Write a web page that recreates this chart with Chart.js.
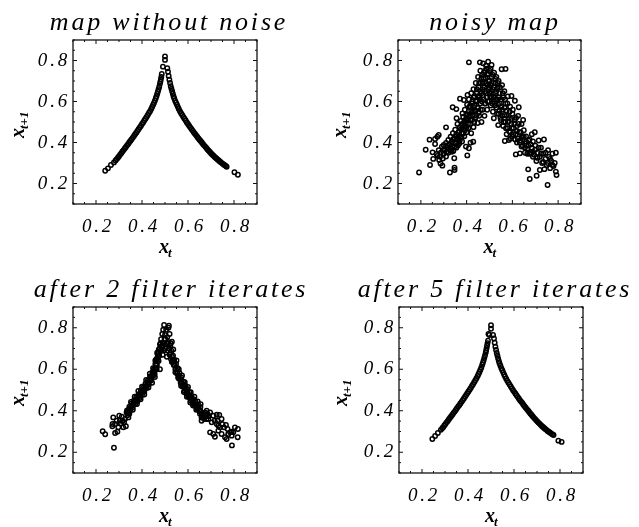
<!DOCTYPE html>
<html>
<head>
<meta charset="utf-8">
<script src="https://cdn.jsdelivr.net/npm/chart.js@4"></script>
<style>
  html, body { margin: 0; padding: 0; background: #fff; overflow: hidden; width: 639px; height: 527px; }
  canvas { position: absolute; }
</style>
</head>
<body>
<canvas id="panel0"></canvas>
<canvas id="panel1"></canvas>
<canvas id="panel2"></canvas>
<canvas id="panel3"></canvas>
<script>
// values, [x_t, x_t+1]
const titles = ["map without noise", "noisy map", "after 2 filter iterates", "after 5 filter iterates"];
const tickValues = [0.2, 0.4, 0.6, 0.8];
const minorValues = [0.1, 0.15, 0.25, 0.3, 0.35, 0.45, 0.5, 0.55, 0.65, 0.7, 0.75, 0.85, 0.9];

const cleanMap = [
  [.240,.262],[.252,.274],[.265,.290],[.278,.303],[.285,.312],[.29,.319],[.295,.326],[.30,.333],[.305,.341],[.31,.348],
  [.315,.356],[.32,.363],[.325,.371],[.33,.378],[.335,.386],[.34,.393],[.345,.401],[.35,.409],[.355,.416],[.36,.424],
  [.365,.432],[.37,.440],[.375,.448],[.38,.456],[.385,.465],[.39,.473],[.395,.481],[.40,.490],[.405,.498],[.41,.507],
  [.415,.516],[.42,.525],[.425,.534],[.43,.544],[.435,.553],[.44,.564],[.444,.573],[.448,.583],[.452,.593],[.456,.604],
  [.46,.616],[.463,.626],[.466,.637],[.469,.648],[.472,.660],[.475,.672],[.478,.686],[.480,.697],[.482,.708],[.484,.720],
  [.486,.734],[.491,.770],[.500,.803],[.500,.820],
  [.510,.762],[.513,.745],[.516,.725],[.519,.706],[.522,.690],[.525,.675],[.528,.662],[.531,.650],[.534,.638],[.537,.626],
  [.54,.616],[.544,.604],[.548,.594],[.552,.584],[.556,.574],[.56,.564],[.565,.553],[.57,.543],[.575,.534],[.58,.525],
  [.585,.516],[.59,.507],[.595,.498],[.60,.490],[.605,.482],[.61,.474],[.615,.466],[.62,.458],[.625,.450],[.63,.443],
  [.635,.436],[.64,.428],[.645,.421],[.65,.414],[.655,.407],[.66,.400],[.665,.393],[.67,.386],[.675,.380],[.68,.373],
  [.685,.366],[.69,.360],[.695,.354],[.70,.348],[.705,.342],[.71,.337],[.715,.331],[.72,.326],[.725,.321],[.73,.316],
  [.735,.311],[.74,.306],[.745,.302],[.75,.297],[.755,.293],[.76,.289],[.765,.285],[.768,.282],[.802,.255],[.817,.243]
];

const noisyMap = [
  [.192,.254],[.221,.365],[.238,.414],[.240,.290],[.262,.417],[.272,.428],[.278,.437],[.251,.352],[.262,.393],[.254,.320],
  [.269,.344],[.280,.315],[.286,.298],[.294,.287],[.327,.254],[.347,.266],[.347,.277],[.346,.323],[.310,.474],[.339,.572],
  [.355,.563],[.356,.518],[.371,.614],[.410,.791],[.403,.337],[.397,.380],[.410,.372],[.429,.404],[.417,.399],[.404,.632],
  [.400,.510],[.388,.607],[.382,.542],[.272,.335],[.278,.362],[.284,.330],[.288,.352],[.292,.380],[.296,.322],[.30,.345],
  [.30,.388],[.305,.362],[.31,.332],[.31,.398],[.315,.375],[.32,.350],[.32,.412],[.325,.392],[.33,.362],[.33,.428],
  [.335,.405],[.338,.380],[.34,.445],[.342,.358],[.345,.420],[.35,.395],[.35,.462],[.355,.375],[.355,.440],[.36,.415],
  [.36,.490],[.365,.450],[.368,.395],[.37,.475],[.372,.425],[.375,.505],[.378,.445],[.38,.405],[.38,.490],[.385,.465],
  [.385,.525],[.39,.430],[.39,.505],[.392,.560],[.395,.480],[.398,.535],[.40,.450],[.402,.585],[.405,.510],[.408,.470],
  [.41,.555],[.41,.610],[.415,.530],[.415,.490],[.418,.575],[.42,.640],[.42,.445],[.424,.510],[.425,.600],[.428,.550],
  [.43,.660],[.43,.475],[.435,.580],[.435,.625],[.438,.520],[.44,.690],[.44,.555],[.445,.645],[.445,.600],[.448,.495],
  [.45,.720],[.45,.570],[.452,.670],[.455,.620],[.455,.530],[.458,.791],[.46,.750],[.46,.590],[.462,.690],[.465,.640],
  [.465,.500],[.468,.730],[.47,.560],[.47,.660],[.472,.786],[.475,.610],[.475,.710],[.478,.530],[.48,.750],[.48,.650],
  [.482,.590],[.485,.690],[.485,.775],[.488,.620],[.49,.730],[.49,.560],[.494,.794],[.495,.660],[.495,.700],[.498,.600],
  [.50,.750],[.50,.640],[.505,.680],[.505,.580],[.509,.778],[.51,.620],[.51,.720],[.515,.660],[.515,.550],[.519,.518],
  [.52,.740],[.52,.600],[.525,.690],[.525,.640],[.53,.570],[.53,.720],[.535,.610],[.535,.665],[.538,.485],[.54,.540],
  [.54,.700],[.545,.640],[.545,.590],[.55,.510],[.553,.757],[.555,.560],[.555,.680],[.56,.620],[.56,.480],[.565,.535],
  [.565,.650],[.567,.407],[.57,.759],[.57,.590],[.57,.500],[.575,.440],[.575,.555],[.58,.625],[.58,.470],[.585,.412],
  [.585,.520],[.59,.575],[.59,.450],[.595,.490],[.596,.627],[.60,.430],[.60,.540],[.605,.470],[.61,.510],[.611,.604],
  [.615,.342],[.615,.440],[.62,.480],[.62,.400],[.625,.530],[.628,.572],[.63,.450],[.633,.347],[.635,.410],[.64,.490],
  [.64,.380],[.645,.430],[.647,.510],[.65,.460],[.655,.395],[.655,.350],[.66,.430],[.665,.370],[.669,.269],[.67,.410],
  [.676,.222],[.675,.345],[.68,.390],[.685,.440],[.69,.355],[.69,.330],[.698,.450],[.70,.385],[.705,.310],[.706,.238],
  [.71,.350],[.715,.410],[.72,.330],[.720,.266],[.725,.375],[.73,.300],[.735,.345],[.738,.415],[.74,.270],[.745,.320],
  [.75,.290],[.754,.193],[.756,.363],[.76,.330],[.765,.275],[.77,.310],[.775,.345],[.78,.285],[.785,.300],[.790,.258],
  [.793,.241],[.790,.350],
  // denser core of the cloud
  [.30,.365],[.312,.355],[.318,.385],[.328,.375],[.335,.355],[.34,.415],[.348,.380],[.352,.430],[.358,.400],[.362,.385],
  [.366,.430],[.37,.410],[.375,.465],[.378,.425],[.382,.475],[.386,.445],[.39,.490],[.393,.460],[.397,.515],[.40,.475],
  [.403,.535],[.406,.490],[.41,.530],[.412,.575],[.416,.510],[.42,.555],[.422,.590],[.426,.530],[.428,.575],[.43,.620],
  [.433,.500],[.436,.555],[.44,.605],[.443,.530],[.445,.660],[.447,.570],[.45,.625],[.453,.545],[.455,.690],[.457,.610],
  [.46,.650],[.462,.560],[.465,.715],[.467,.600],[.47,.690],[.472,.630],[.475,.740],[.477,.670],[.48,.590],[.483,.715],
  [.485,.640],[.488,.760],[.49,.680],[.492,.600],[.495,.735],[.498,.670],[.50,.700],[.503,.625],[.505,.760],[.507,.650],
  [.51,.690],[.512,.590],[.515,.730],[.518,.625],[.52,.670],[.523,.580],[.526,.710],[.528,.610],[.53,.650],[.533,.540],
  [.536,.690],[.538,.585],[.54,.620],[.543,.555],[.546,.670],[.548,.520],[.55,.610],[.552,.575],[.556,.530],[.558,.640],
  [.562,.500],[.566,.570],[.568,.610],[.572,.470],[.574,.530],[.578,.590],[.582,.500],[.586,.455],[.588,.550],[.592,.420],
  [.595,.515],[.598,.470],[.602,.560],[.604,.440],[.608,.490],[.612,.415],[.616,.520],[.62,.455],[.624,.420],[.628,.490],
  [.632,.400],[.636,.450],[.64,.425],[.645,.385],[.65,.430],[.655,.375],[.66,.405],[.665,.345],[.67,.385],[.675,.415],
  [.68,.350],[.685,.375],[.69,.405],[.695,.340],[.70,.365],[.71,.325],[.715,.375],[.725,.345],[.735,.305],[.745,.350],
  [.755,.300],[.765,.320],[.775,.290]
];

const filter2Map = [
  [.229,.301],[.240,.287],[.278,.222],[.791,.233],[.271,.325],[.272,.336],[.275,.368],[.283,.293],[.293,.299],[.297,.320],
  [.304,.352],[.312,.371],[.319,.320],[.330,.325],[.326,.360],[.341,.368],[.290,.352],[.301,.376],[.283,.336],[.316,.352],
  [.333,.392],[.308,.340],[.322,.345],[.337,.378],
  [.335,.402],[.34,.388],[.345,.420],[.35,.402],[.355,.435],[.36,.417],[.365,.450],[.37,.432],[.375,.466],[.38,.446],
  [.385,.480],[.39,.461],[.395,.497],[.40,.476],[.405,.511],[.41,.492],[.415,.530],[.42,.510],[.425,.545],[.43,.527],
  [.435,.565],[.44,.546],[.445,.585],[.45,.570],[.452,.600],[.455,.578],[.458,.625],[.46,.600],[.463,.650],[.465,.620],
  [.468,.672],[.47,.645],[.473,.695],[.475,.665],[.478,.720],[.48,.690],[.483,.745],[.485,.710],[.488,.770],[.49,.670],
  [.49,.725],[.492,.790],[.496,.813],[.495,.690],[.498,.745],[.50,.765],[.50,.700],[.505,.790],[.505,.725],[.508,.660],
  [.51,.755],[.512,.690],[.515,.800],[.517,.810],[.515,.730],[.52,.770],[.52,.670],[.523,.715],[.526,.650],[.528,.690],
  [.53,.733],[.532,.640],[.535,.665],[.538,.620],[.54,.645],[.545,.600],[.548,.625],[.552,.580],[.555,.605],[.56,.556],
  [.563,.582],[.568,.535],[.571,.560],[.576,.517],[.58,.540],[.585,.498],[.588,.522],[.593,.482],[.597,.505],[.602,.466],
  [.606,.488],[.611,.450],[.615,.472],[.62,.436],[.624,.456],[.63,.424],[.633,.442],[.64,.410],[.644,.430],[.65,.398],
  [.654,.418],[.66,.385],
  [.659,.368],[.670,.384],[.681,.400],[.696,.392],[.688,.360],[.659,.352],[.710,.376],[.725,.381],[.736,.380],[.703,.344],
  [.696,.296],[.710,.288],[.717,.275],[.732,.304],[.739,.320],[.725,.336],[.746,.360],[.757,.320],[.765,.331],[.772,.312],
  [.783,.296],[.790,.280],[.732,.328],[.746,.288],[.761,.272],[.768,.264],[.804,.320],[.817,.312],[.797,.296],[.816,.272],
  [.775,.288],[.790,.299],[.68,.375],[.67,.360],[.69,.375],[.665,.372],[.675,.392],[.716,.352],[.728,.352],[.75,.335],
  // middle of the band
  [.338,.395],[.343,.405],[.348,.412],[.353,.420],[.358,.427],[.363,.435],[.368,.442],[.373,.450],[.378,.457],[.383,.465],
  [.388,.472],[.393,.480],[.398,.488],[.403,.495],[.408,.503],[.413,.512],[.418,.520],[.423,.530],[.428,.538],[.433,.548],
  [.438,.558],[.443,.568],[.448,.580],[.453,.590],[.457,.605],[.461,.620],[.465,.640],[.469,.660],[.473,.680],[.477,.700],
  [.481,.725],[.486,.690],[.493,.715],[.502,.745],[.51,.725],[.518,.700],[.524,.680],[.53,.660],[.536,.640],[.542,.620],
  [.548,.600],[.554,.585],[.56,.568],[.566,.552],[.572,.540],[.578,.528],[.584,.515],[.59,.505],[.596,.490],[.602,.478],
  [.608,.468],[.614,.458],[.62,.448],[.626,.438],[.632,.430],[.638,.422],[.644,.412],[.65,.405],[.656,.395],[.662,.378],
  [.668,.372],[.674,.372],[.68,.360],[.685,.385],
  // outer edges of the band
  [.345,.385],[.352,.442],[.36,.405],[.368,.468],[.378,.432],[.384,.495],[.394,.455],[.40,.516],[.41,.478],[.418,.548],
  [.428,.512],[.434,.578],[.444,.535],[.448,.605],[.456,.563],[.458,.642],[.464,.600],[.466,.680],[.472,.640],[.478,.600],
  [.525,.725],[.53,.635],[.536,.695],[.545,.585],[.55,.642],[.557,.560],[.56,.600],[.57,.520],[.574,.570],[.582,.490],
  [.586,.538],[.595,.468],[.60,.515],[.61,.440],[.612,.490],[.622,.425],[.628,.468],[.636,.405],[.642,.445],[.652,.385],
  [.655,.432]
];

const filter5Map = [
  [.245,.264],[.257,.278],[.269,.293],[.282,.308],[.288,.316],[.292,.321],[.297,.329],[.302,.336],[.307,.344],[.312,.351],
  [.317,.359],[.322,.366],[.327,.374],[.332,.381],[.337,.389],[.342,.396],[.347,.404],[.352,.412],[.357,.420],[.362,.427],
  [.367,.435],[.372,.443],[.377,.451],[.382,.459],[.387,.468],[.392,.476],[.397,.484],[.402,.493],[.407,.501],[.412,.510],
  [.417,.519],[.422,.528],[.427,.537],[.432,.547],[.437,.557],[.442,.568],[.446,.577],[.45,.587],[.454,.598],[.458,.609],
  [.462,.622],[.465,.632],[.468,.643],[.471,.655],[.474,.667],[.477,.680],[.479,.691],[.481,.702],[.483,.714],[.485,.726],
  [.487,.738],[.489,.770],[.493,.765],[.500,.795],[.500,.812],
  [.509,.765],[.513,.748],[.516,.728],[.519,.709],[.522,.693],[.525,.678],[.528,.665],[.531,.652],[.534,.640],[.537,.629],
  [.541,.617],[.545,.605],[.549,.595],[.553,.585],[.557,.575],[.561,.565],[.566,.554],[.571,.544],[.576,.535],[.581,.526],
  [.586,.517],[.591,.508],[.596,.499],[.601,.491],[.606,.483],[.611,.475],[.616,.467],[.621,.459],[.626,.451],[.631,.444],
  [.636,.437],[.641,.429],[.646,.422],[.651,.415],[.656,.408],[.661,.401],[.666,.394],[.671,.387],[.676,.381],[.681,.374],
  [.686,.367],[.691,.361],[.696,.355],[.701,.349],[.706,.343],[.711,.338],[.716,.332],[.721,.327],[.726,.322],[.731,.317],
  [.736,.312],[.741,.308],[.746,.303],[.751,.299],[.756,.295],[.761,.291],[.766,.287],[.772,.283],[.793,.256],[.807,.250]
];

const seriesList = [cleanMap, noisyMap, filter2Map, filter5Map];

// canvas box and plot rectangle of each panel, in page pixels
const panels = [
  { left: 0,   top: 0,   width: 338, height: 264, labelGap: 49, plot: { l: 73,  r: 257, t: 40,  b: 204 } },
  { left: 330, top: 0,   width: 330, height: 264, labelGap: 52, plot: { l: 398, r: 581, t: 40,  b: 204 } },
  { left: 0,   top: 264, width: 342, height: 263, labelGap: 49, plot: { l: 73,  r: 257, t: 307, b: 473 } },
  { left: 330, top: 264, width: 330, height: 263, labelGap: 52, plot: { l: 399, r: 583, t: 307, b: 473 } },
];

const serif = "'Liberation Serif', serif";
const spacing = "2.8px";

// draw a letter with a small subscript next to it
function subLabel(ctx, text, sub, x, y) {
  ctx.font = "italic bold 20px " + serif;
  const w = ctx.measureText(text).width;
  ctx.textAlign = "left";
  ctx.textBaseline = "alphabetic";
  ctx.fillText(text, x, y);
  ctx.font = "italic bold 13px " + serif;
  ctx.fillText(sub, x + w - 1, y + 4);
}

const framePlugin = {
  id: "frame",
  // the canvas context gets reset when chart.js sizes it, so set this late
  beforeUpdate(chart) {
    chart.ctx.letterSpacing = spacing;
  },
  beforeDraw(chart) {
    chart.ctx.letterSpacing = spacing;
  },
  afterDatasetsDraw(chart) {
    const { ctx, chartArea: a, scales } = chart;
    ctx.save();
    ctx.strokeStyle = "#111";
    ctx.lineWidth = 1.3;
    ctx.strokeRect(a.left, a.top, a.right - a.left, a.bottom - a.top);
    ctx.lineWidth = 1;
    const marks = (vals, len) => {
      ctx.beginPath();
      vals.forEach(v => {
        const px = scales.x.getPixelForValue(v);
        const py = scales.y.getPixelForValue(v);
        ctx.moveTo(px, a.bottom); ctx.lineTo(px, a.bottom - len);
        ctx.moveTo(px, a.top); ctx.lineTo(px, a.top + len);
        ctx.moveTo(a.left, py); ctx.lineTo(a.left + len, py);
        ctx.moveTo(a.right, py); ctx.lineTo(a.right - len, py);
      });
      ctx.stroke();
    };
    marks(tickValues, 4);
    marks(minorValues, 2);

    // axis labels with subscripts
    ctx.fillStyle = "#000";
    ctx.letterSpacing = "0px";
    subLabel(ctx, "x", "t", (a.left + a.right) / 2 - 6, a.bottom + 49);
    ctx.translate(a.left - chart.options.labelGap, (a.top + a.bottom) / 2 + 16);
    ctx.rotate(-Math.PI / 2);
    subLabel(ctx, "x", "t+1", 0, 0);
    ctx.restore();
  }
};

panels.forEach((p, i) => {
  const canvas = document.getElementById("panel" + i);
  canvas.width = p.width;
  canvas.height = p.height;
  canvas.style.left = p.left + "px";
  canvas.style.top = p.top + "px";

  const plotLeft = p.plot.l - p.left;
  const plotRight = p.plot.r - p.left;
  const plotTop = p.plot.t - p.top;
  const plotBottom = p.plot.b - p.top;

  const tickOpts = {
    color: "#000",
    font: { family: serif, size: 19, style: "italic" },
    autoSkip: false,
    maxRotation: 0,
    callback: v => v.toFixed(1),
  };

  new Chart(canvas, {
    type: "scatter",
    data: {
      datasets: [{
        data: seriesList[i].map(d => ({ x: d[0], y: d[1] })),
        pointStyle: "circle",
        pointRadius: 2.2,
        pointBorderWidth: 1.5,
        borderColor: "#000",
        backgroundColor: "rgba(0,0,0,0)",
      }],
    },
    options: {
      responsive: false,
      animation: false,
      events: [],
      labelGap: p.labelGap,
      plugins: {
        legend: { display: false },
        tooltip: { enabled: false },
        title: {
          display: true,
          text: titles[i],
          color: "#000",
          font: { family: serif, size: 26, style: "italic", weight: "normal", lineHeight: 1.2 },
          padding: { top: plotTop - 31.2 - 1, bottom: 1 },
        },
      },
      scales: {
        x: {
          type: "linear",
          min: 0.1,
          max: 0.9,
          grid: { display: false, drawTicks: false },
          border: { display: false },
          ticks: { ...tickOpts, padding: 12, labelOffset: 2 },
          afterBuildTicks: s => { s.ticks = tickValues.map(v => ({ value: v })); },
          afterFit: s => { s.height = p.height - plotBottom; },
        },
        y: {
          type: "linear",
          min: 0.1,
          max: 0.9,
          grid: { display: false, drawTicks: false },
          border: { display: false },
          ticks: { ...tickOpts, padding: 3 },
          afterBuildTicks: s => { s.ticks = tickValues.map(v => ({ value: v })); },
          afterFit: s => { s.width = plotLeft; },
        },
        // empty axis that only holds the space right of the plot
        spacer: {
          type: "linear",
          position: "right",
          grid: { display: false, drawTicks: false },
          border: { display: false },
          ticks: { display: false },
          afterFit: s => { s.width = p.width - plotRight; },
        },
      },
    },
    plugins: [framePlugin],
  });
});
</script>
</body>
</html>
